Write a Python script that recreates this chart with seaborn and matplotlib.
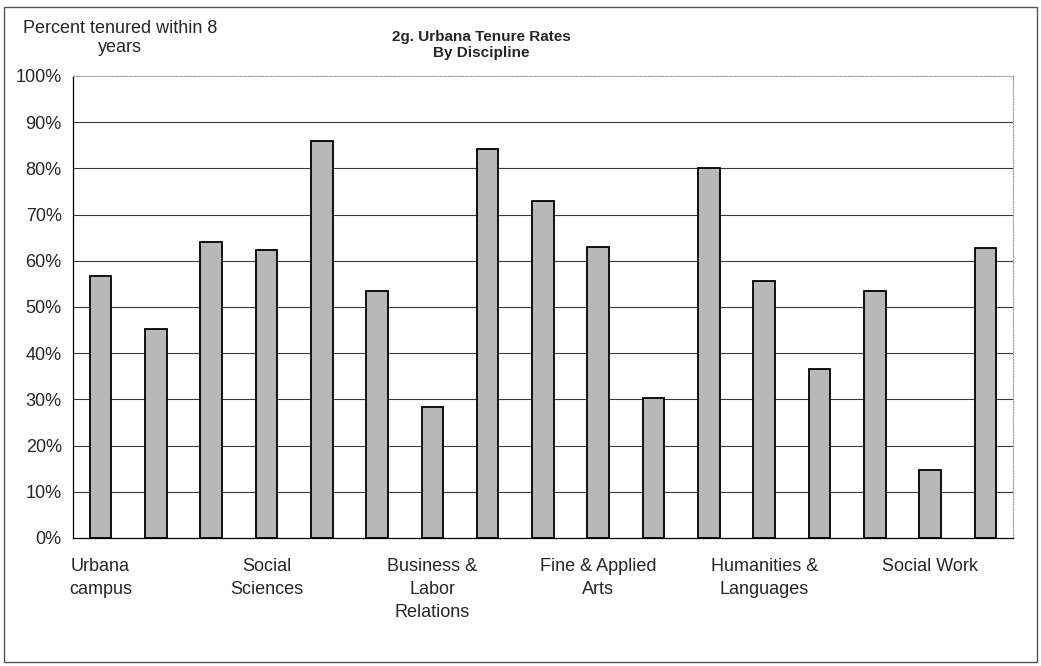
import pandas as pd
import matplotlib
matplotlib.use('Agg')
import matplotlib.pyplot as plt
import seaborn as sns
from matplotlib.patches import Rectangle
from matplotlib.ticker import FuncFormatter

# values (percent tenured within 8 years)
rates = [56.7, 45.3, 64.0, 62.4, 85.9, 53.4, 28.4, 84.3, 72.9,
         62.9, 30.2, 80.1, 55.7, 36.6, 53.5, 14.7, 62.7]
# only every third category is labelled on the axis
tick_labels = ['Urbana\ncampus', '', '', 'Social\nSciences', '', '',
               'Business &\nLabor\nRelations', '', '', 'Fine & Applied\nArts', '', '',
               'Humanities &\nLanguages', '', '', 'Social Work', '']
y_ticks = [0, 10, 20, 30, 40, 50, 60, 70, 80, 90, 100]

df = pd.DataFrame({'slot': list(range(len(rates))), 'rate': rates})

sns.set_style('white')
plt.rcParams['font.family'] = ['Liberation Sans', 'DejaVu Sans']

fig = plt.figure(figsize=(10.41, 6.66), dpi=100)
ax = fig.add_axes([0.0701, 0.1922, 0.9030, 0.6937])

sns.barplot(data=df, x='slot', y='rate', color='#b8b8b8', saturation=1,
            width=0.39, edgecolor='black', linewidth=1.3, ax=ax)

ax.set_xlim(-0.5, len(rates) - 0.5)
ax.set_ylim(0, 100)
ax.set_yticks(y_ticks)
ax.yaxis.set_major_formatter(FuncFormatter(lambda v, p: f'{v:.0f}%'))
ax.set_xticks(range(len(rates)))
ax.set_xticklabels(tick_labels, linespacing=1.45)
ax.set_xticks([i - 0.5 for i in range(len(rates) + 1)], minor=True)
ax.tick_params(axis='x', which='major', length=0, pad=14.5, labelsize=13)
ax.tick_params(axis='x', which='minor', length=4, width=0.8, color='black', direction='out')
ax.tick_params(axis='y', length=4, width=0.8, color='black', direction='out', pad=4, labelsize=13)
ax.set_xlabel('')
ax.set_ylabel('')

for v in y_ticks[1:-1]:
    ax.axhline(v, color='#3a3a3a', linewidth=0.8, zorder=0)

for side in ['left', 'bottom']:
    ax.spines[side].set_color('black')
    ax.spines[side].set_linewidth(0.9)
for side in ['top', 'right']:
    ax.spines[side].set_color('#9a9a9a')
    ax.spines[side].set_linestyle((0, (1, 1.5)))
    ax.spines[side].set_linewidth(0.8)

fig.text(0.462, 0.932, '2g. Urbana Tenure Rates\nBy Discipline', ha='center', va='center',
         fontsize=11, fontweight='bold', linespacing=1.2)
fig.text(0.115, 0.943, 'Percent tenured within 8\nyears', ha='center', va='center',
         fontsize=13, linespacing=1.1)

fig.patches.append(Rectangle((0.0038, 0.006), 0.9923, 0.9835, transform=fig.transFigure,
                             fill=False, edgecolor='#555555', linewidth=1.0))

fig.savefig('out.png', dpi=100)
